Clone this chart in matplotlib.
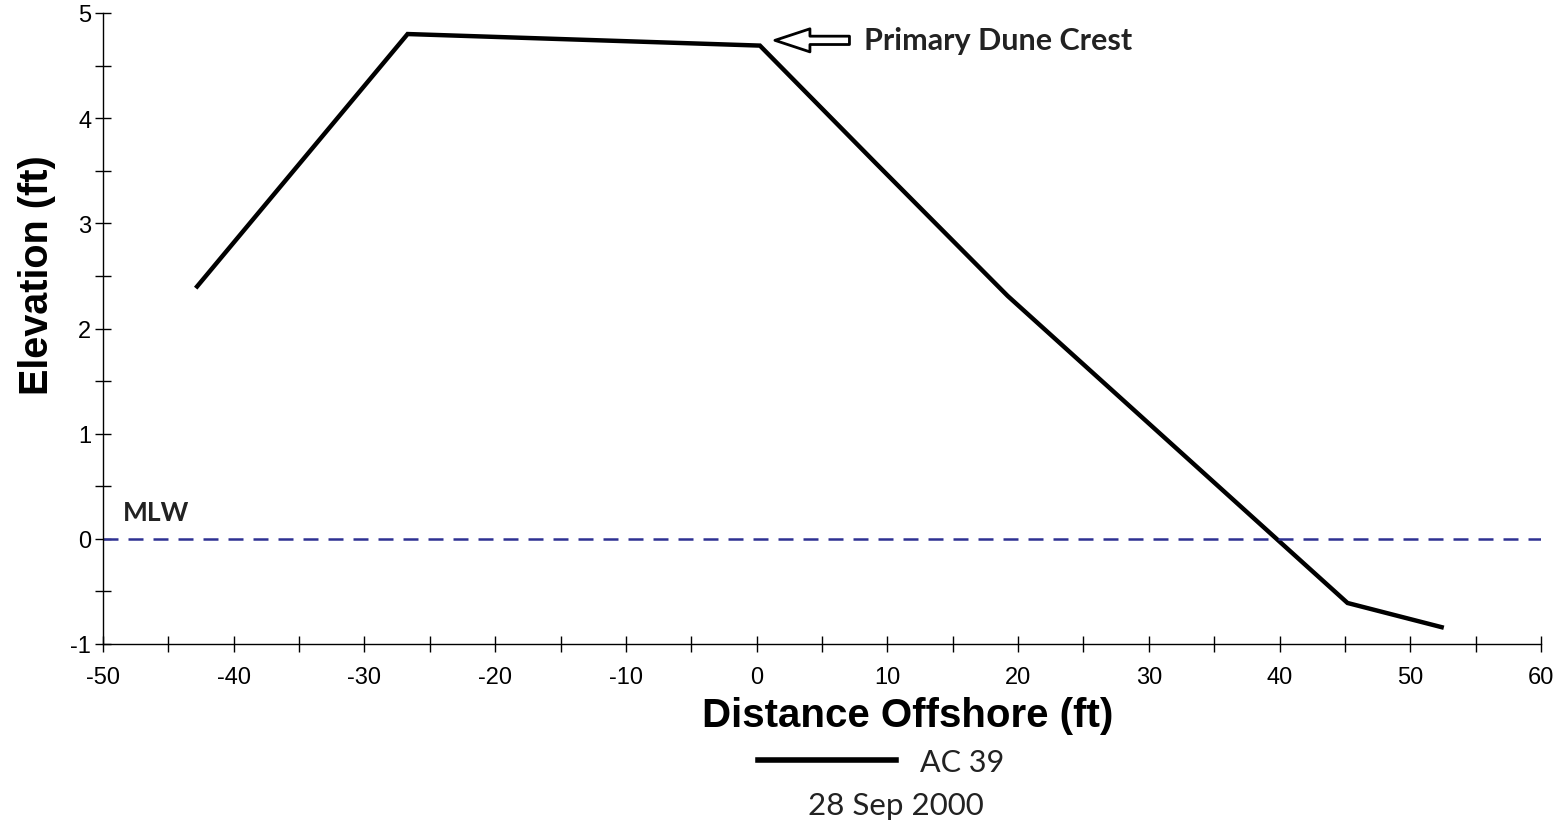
import matplotlib
matplotlib.use("Agg")
import matplotlib.pyplot as plt
from matplotlib.ticker import MultipleLocator

plt.rcParams["axes.unicode_minus"] = False

distance = [-42.8, -26.7, 0.25, 9.05, 19.2, 45.2, 52.4]
elevation = [2.40, 4.80, 4.69, 3.58, 2.31, -0.61, -0.84]
mlw_level = 0.0
series_name = "AC 39"
survey_date = "28 Sep 2000"

fig = plt.figure(figsize=(15.61, 8.29), dpi=100)
ax = fig.add_axes([103/1561, 1 - 645/829, (1541-103)/1561, (645-14)/829])

ax.plot(distance, elevation, color="black", lw=3.2, solid_joinstyle="miter", label=series_name)
ax.axhline(mlw_level, color="#2e3192", lw=1.8, dashes=(6, 4))

ax.set_xlim(-50, 60)
ax.set_ylim(-1, 5)
ax.xaxis.set_major_locator(MultipleLocator(10))
ax.xaxis.set_minor_locator(MultipleLocator(5))
ax.yaxis.set_major_locator(MultipleLocator(1))
ax.yaxis.set_minor_locator(MultipleLocator(0.5))
for s in ("top", "right"):
    ax.spines[s].set_visible(False)
for s in ("left", "bottom"):
    ax.spines[s].set_linewidth(1.0)
ax.tick_params(which="both", direction="inout", length=11, width=1.0)
ax.tick_params(axis="x", labelsize=17, pad=10)
ax.tick_params(axis="y", labelsize=17, pad=3)
for lab in ax.get_xticklabels() + ax.get_yticklabels():
    lab.set_fontfamily("Liberation Sans")

fig.text(908/1561, 1 - 716/829, "Distance Offshore (ft)", fontsize=29, fontweight="bold",
         family="Liberation Sans", ha="center", va="center")
fig.text(37/1561, 1 - 275/829, "Elevation (ft)", fontsize=28.5, fontweight="bold",
         family="Liberation Sans", ha="center", va="center", rotation=90)

ax.text(-48.5, 0.14, "MLW", fontsize=19, fontweight="bold", family="Lato",
        color="#222222", ha="left", va="bottom")

ax.annotate("", xy=(1.4, 4.74), xytext=(7.1, 4.74),
            arrowprops=dict(arrowstyle="simple,head_length=1.26,head_width=0.83,tail_width=0.3",
                            mutation_scale=20, fc="white", ec="black", lw=2.0,
                            shrinkA=0, shrinkB=0))
ax.text(8.2, 4.74, "Primary Dune Crest", fontsize=22, fontweight="bold",
        family="Lato", color="#222222", ha="left", va="center")

leg = fig.legend(loc="center left", bbox_to_anchor=(758/1561, 1 - 763/829), frameon=False,
                 handlelength=4.5, handletextpad=0.8, borderpad=0, borderaxespad=0,
                 prop={"family": "Lato", "size": 22})
for t in leg.get_texts():
    t.set_color("#222222")
for h in leg.get_lines():
    h.set_linewidth(4)
fig.text(896/1561, 1 - 806/829, survey_date, fontsize=22.5, family="Lato",
         color="#222222", ha="center", va="center")

fig.savefig("out.png", dpi=100)
